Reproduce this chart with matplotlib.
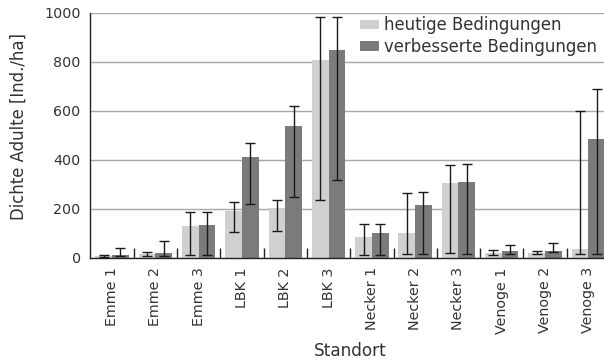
import matplotlib
matplotlib.use("Agg")
import matplotlib.pyplot as plt
import numpy as np

plt.rcParams['font.family'] = ['DejaVu Sans']

sites = ["Emme 1", "Emme 2", "Emme 3", "LBK 1", "LBK 2", "LBK 3",
         "Necker 1", "Necker 2", "Necker 3", "Venoge 1", "Venoge 2", "Venoge 3"]

# heutige Bedingungen: mean, lower and upper bound
now_mean = [8, 14, 128, 191, 201, 807, 82, 102, 304, 20, 20, 34]
now_low = [4, 6, 11, 103, 107, 234, 9, 14, 20, 12, 13, 14]
now_high = [12, 23, 185, 226, 234, 981, 136, 263, 377, 30, 28, 598]

# verbesserte Bedingungen: mean, lower and upper bound
imp_mean = [12, 19, 131, 410, 537, 847, 102, 214, 307, 27, 27, 486]
imp_low = [5, 5, 11, 218, 249, 315, 12, 14, 14, 16, 21, 14]
imp_high = [37, 68, 185, 466, 618, 981, 136, 268, 383, 53, 58, 687]

labels = ["heutige Bedingungen", "verbesserte Bedingungen"]
yticks = [0, 200, 400, 600, 800, 1000]

c_light = "#d0d0d0"
c_dark = "#7b7b7b"
c_text = "#333333"

fig = plt.figure(figsize=(6.04, 3.61), dpi=100)
W, H = 604, 361
x0, x1 = 90.4, 610.0
y0, y1 = 257.5, 12.7
ax = fig.add_axes([x0 / W, 1 - y0 / H, (x1 - x0) / W, (y0 - y1) / H])

x = np.arange(len(sites))
bw = 0.385

def yerr(mean, lo, hi):
    m = np.array(mean, float)
    return np.vstack([m - np.array(lo, float), np.array(hi, float) - m])

ax.bar(x - bw / 2, now_mean, bw, color=c_light, label=labels[0], zorder=2)
ax.bar(x + bw / 2, imp_mean, bw, color=c_dark, label=labels[1], zorder=2)
ek = dict(fmt="none", ecolor="#1a1a1a", elinewidth=1.0, capsize=3.6, capthick=1.0, zorder=3)
ax.errorbar(x - bw / 2, now_mean, yerr=yerr(now_mean, now_low, now_high), **ek)
ax.errorbar(x + bw / 2, imp_mean, yerr=yerr(imp_mean, imp_low, imp_high), **ek)

ax.set_xlim(-0.5, len(sites) - 0.5)
ax.set_ylim(0, 1000)
ax.set_yticks(yticks)
ax.yaxis.grid(True, color="#a8a8a8", linewidth=1.0, zorder=0)
ax.set_axisbelow(True)

ax.set_xticks(x)
ax.set_xticklabels(sites, rotation=90, fontsize=10.3, color=c_text)
ax.set_xticks(np.arange(len(sites) - 1) + 0.5, minor=True)
ax.tick_params(axis="x", which="major", length=0, pad=7)
ax.tick_params(axis="x", which="minor", length=7, width=1.0, direction="in", color="#222222")
ax.tick_params(axis="y", length=0, pad=7, labelsize=10.3, labelcolor=c_text)

for s in ("top", "right"):
    ax.spines[s].set_visible(False)
for s in ("left", "bottom"):
    ax.spines[s].set_color("#222222")
    ax.spines[s].set_linewidth(1.0)

ax.set_ylabel("Dichte Adulte [Ind./ha]", fontsize=11.9, color=c_text)
ax.yaxis.set_label_coords((28 - x0) / (x1 - x0), (y0 - 126) / (y0 - y1))
ax.set_xlabel("Standort", fontsize=12.2, color=c_text, labelpad=6)

ax.legend(loc="upper left", bbox_to_anchor=((353 - x0) / (x1 - x0), 1.012), frameon=False,
          fontsize=11.9, handlelength=1.2, handleheight=0.5, handletextpad=0.3,
          labelspacing=0.22, borderaxespad=0.0, labelcolor=c_text)

fig.savefig("out.png", dpi=100)
